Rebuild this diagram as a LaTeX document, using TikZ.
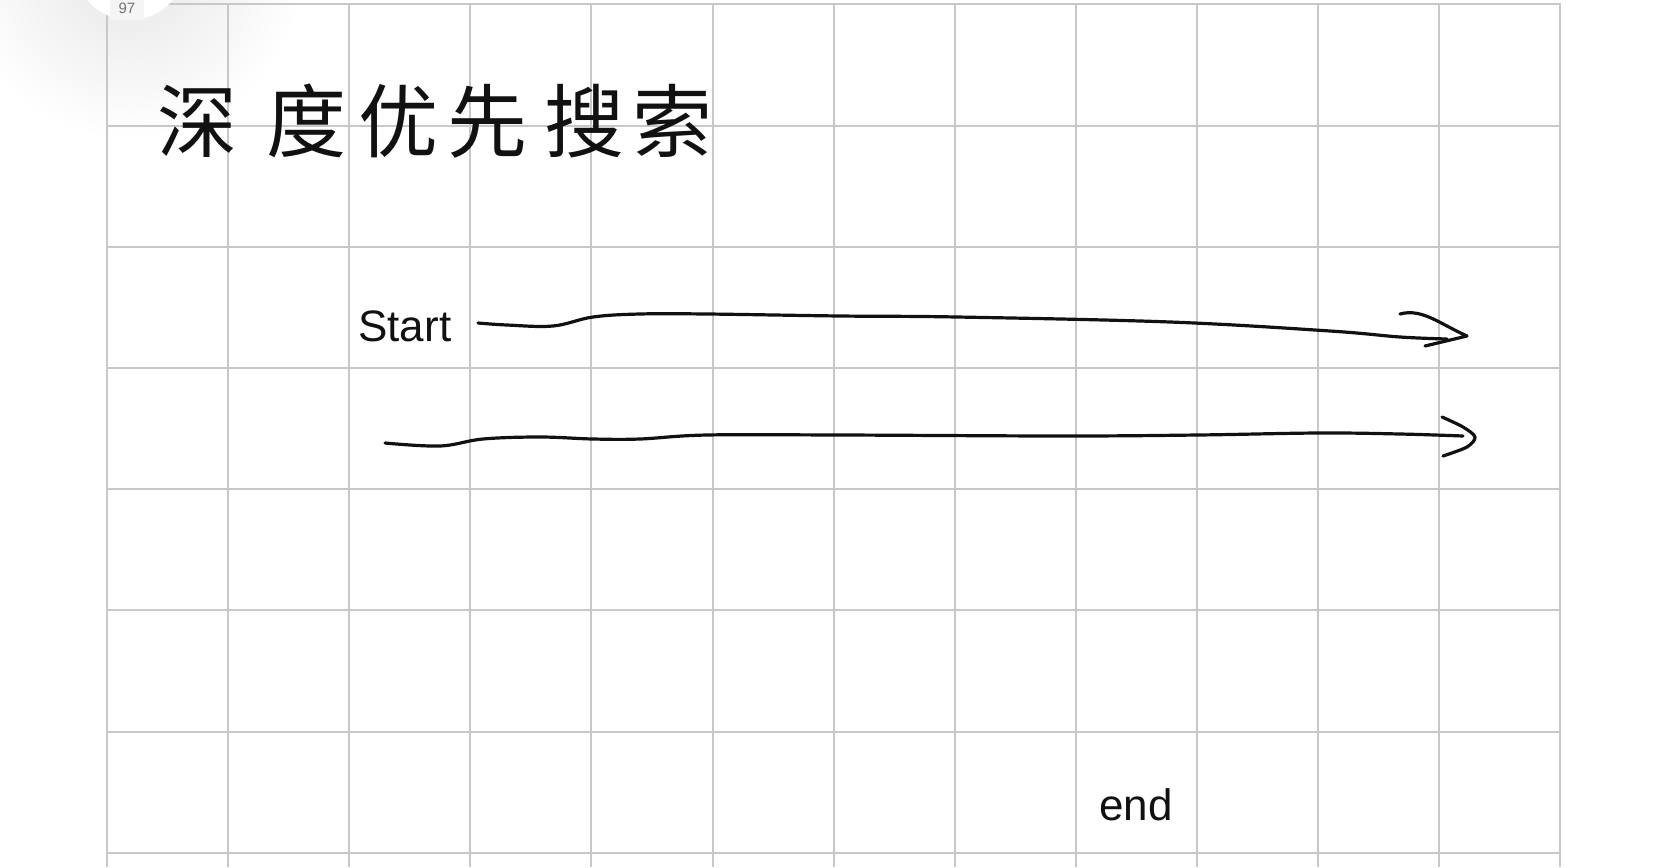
\documentclass[tikz,border=0pt]{standalone}
\usepackage{fontspec}
\setmainfont{Liberation Sans}
\newfontfamily\cjkfont{Noto Sans CJK SC}
\definecolor{gridgray}{HTML}{C8C8C8}
\definecolor{inkblack}{HTML}{111111}

\begin{document}
\begin{tikzpicture}[
  x=0.5pt, y=-0.5pt,
  gridline/.style={draw=gridgray, line width=1pt},
  ink/.style={draw=inkblack, line width=1.6pt, line cap=round, line join=round},
  handtext/.style={font=\fontsize{22}{22}\selectfont, text=inkblack, inner sep=0pt},
  titlechar/.style={font=\cjkfont\fontsize{40}{40}\selectfont, text=inkblack, inner sep=0pt},
  badge/.style={font=\fontsize{7.5}{7.5}\selectfont, text=black!55, inner sep=0pt},
]
  \useasboundingbox (0,0) rectangle (1668,867);
  % page badge shadow
  \shade[inner color=black!10, outer color=white] (130,-36) circle (175);
  % squared paper
  \foreach \i in {0,...,12}
    \draw[gridline] ({107+121.1*\i},4) -- ({107+121.1*\i},867);
  \foreach \j in {0,...,7}
    \draw[gridline] (107,{4.4+121.2*\j}) -- (1561,{4.4+121.2*\j});
  % page badge
  \fill[white] (130,-36) circle (56);
  \fill[black!4] (110,0) rectangle (144,20);
  \node[badge] (page) at (127,8) {97};

  \foreach \ch/\cx [count=\i] in {深/197,度/306,优/398,先/487,搜/584,索/672}
    \node[titlechar] (t\i) at (\cx,121) {\ch};

  \node[handtext, anchor=base west] (start) at (358,341) {Start};
  \node[handtext, anchor=base west] (end) at (1099,820) {end};

  \coordinate (s1) at (478,323);
  \coordinate (e1) at (1447,339);
  \coordinate (tip1) at (1467,336);
  \coordinate (s2) at (385,443);
  \coordinate (e2) at (1463,436);
  \coordinate (tip2) at (1475,437);

  \draw[ink] plot[smooth, tension=0.6] coordinates {(s1) (507,325) (553,326)
    (593,317) (640,314) (707,314) (840,316) (957,317) (1170,322)
    (1330,331) (1400,337) (e1)};
  \draw[ink] (1400,314) .. controls (1422,308) and (1440,324) .. (tip1) -- (1425,346);

  \draw[ink] plot[smooth, tension=0.6] coordinates {(s2) (440,446) (483,439)
    (540,437) (593,439) (640,439) (707,435) (840,435) (1064,436) (1198,435)
    (1319,433) (1400,434) (e2)};
  \draw[ink] plot[smooth] coordinates {(1442,417) (1463,427) (tip2) (1467,447) (1443,456)};
\end{tikzpicture}
\end{document}
